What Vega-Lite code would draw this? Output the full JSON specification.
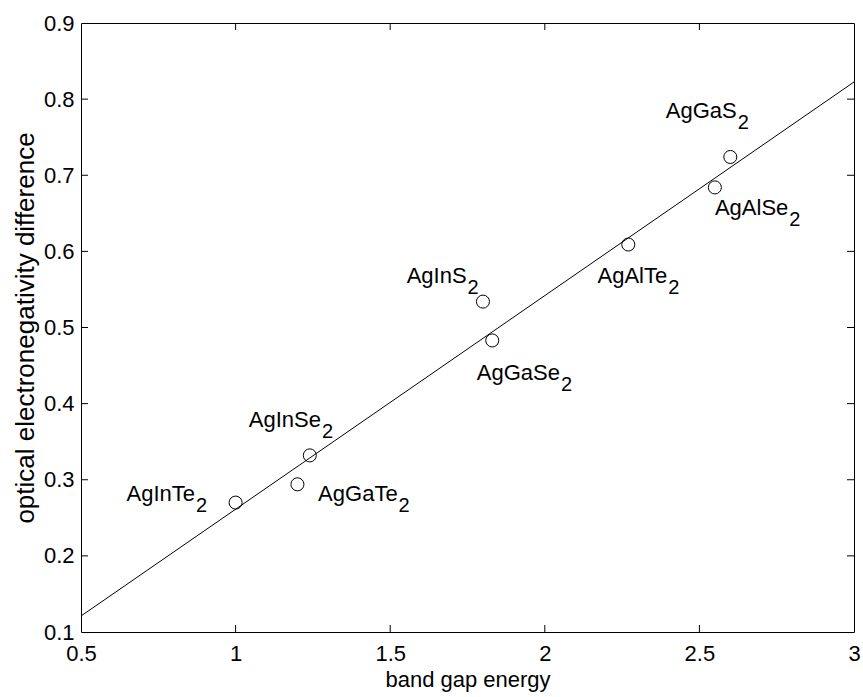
{
  "$schema": "https://vega.github.io/schema/vega-lite/v6.json",
  "width": 773,
  "height": 609,
  "autosize": {"type": "none"},
  "padding": {"left": 81, "top": 23, "right": 9, "bottom": 65},
  "background": "white",
  "config": {
    "font": "Liberation Sans",
    "view": {"stroke": "black", "strokeWidth": 1},
    "axis": {
      "grid": false,
      "domain": false,
      "ticks": false,
      "labelColor": "black",
      "labelFont": "Liberation Sans",
      "labelFontSize": 22,
      "titleColor": "black",
      "titleFont": "Liberation Sans",
      "titleFontSize": 22,
      "titleFontWeight": "normal"
    }
  },
  "datasets": {
    "compounds": [
      {"compound": "AgInTe", "sub": "2", "Eg": 1.00, "dchi": 0.270, "tx": 0.869, "ty": 0.2725},
      {"compound": "AgGaTe", "sub": "2", "Eg": 1.20, "dchi": 0.294, "tx": 1.524, "ty": 0.2725},
      {"compound": "AgInSe", "sub": "2", "Eg": 1.24, "dchi": 0.332, "tx": 1.276, "ty": 0.3697},
      {"compound": "AgInS", "sub": "2", "Eg": 1.80, "dchi": 0.534, "tx": 1.747, "ty": 0.558},
      {"compound": "AgGaSe", "sub": "2", "Eg": 1.83, "dchi": 0.483, "tx": 2.049, "ty": 0.431},
      {"compound": "AgAlTe", "sub": "2", "Eg": 2.27, "dchi": 0.609, "tx": 2.396, "ty": 0.558},
      {"compound": "AgAlSe", "sub": "2", "Eg": 2.55, "dchi": 0.684, "tx": 2.7875, "ty": 0.6478},
      {"compound": "AgGaS", "sub": "2", "Eg": 2.60, "dchi": 0.724, "tx": 2.6206, "ty": 0.7748}
    ],
    "fit": [
      {"Eg": 0.5, "dchi": 0.121},
      {"Eg": 3.0, "dchi": 0.8225}
    ],
    "xticks": [{"Eg": 1}, {"Eg": 1.5}, {"Eg": 2}, {"Eg": 2.5}],
    "yticks": [{"dchi": 0.2}, {"dchi": 0.3}, {"dchi": 0.4}, {"dchi": 0.5}, {"dchi": 0.6}, {"dchi": 0.7}, {"dchi": 0.8}]
  },
  "layer": [
    {
      "data": {"name": "fit"},
      "mark": {"type": "line", "color": "black", "strokeWidth": 1, "clip": true},
      "encoding": {
        "x": {
          "field": "Eg", "type": "quantitative",
          "scale": {"domain": [0.5, 3], "nice": false, "zero": false},
          "axis": {"orient": "bottom", "title": "band gap energy", "values": [0.5, 1, 1.5, 2, 2.5, 3], "format": "~g", "labelPadding": 11, "titlePadding": 5, "labelFlush": false}
        },
        "y": {
          "field": "dchi", "type": "quantitative",
          "scale": {"domain": [0.1, 0.9], "nice": false, "zero": false},
          "axis": {"orient": "left", "title": "optical electronegativity difference", "titleFontSize": 26, "values": [0.1, 0.2, 0.3, 0.4, 0.5, 0.6, 0.7, 0.8, 0.9], "format": ".1f", "labelPadding": 7, "titlePadding": 5, "labelFlush": false}
        }
      }
    },
    {
      "data": {"name": "xticks"},
      "mark": {"type": "rule", "color": "black", "strokeWidth": 1},
      "encoding": {
        "x": {"field": "Eg", "type": "quantitative"},
        "y": {"datum": 0.1, "type": "quantitative"},
        "y2": {"datum": 0.1092}
      }
    },
    {
      "data": {"name": "xticks"},
      "mark": {"type": "rule", "color": "black", "strokeWidth": 1},
      "encoding": {
        "x": {"field": "Eg", "type": "quantitative"},
        "y": {"datum": 0.9, "type": "quantitative"},
        "y2": {"datum": 0.8908}
      }
    },
    {
      "data": {"name": "yticks"},
      "mark": {"type": "rule", "color": "black", "strokeWidth": 1},
      "encoding": {
        "x": {"datum": 0.5, "type": "quantitative"},
        "x2": {"datum": 0.5226},
        "y": {"field": "dchi", "type": "quantitative"}
      }
    },
    {
      "data": {"name": "yticks"},
      "mark": {"type": "rule", "color": "black", "strokeWidth": 1},
      "encoding": {
        "x": {"datum": 3, "type": "quantitative"},
        "x2": {"datum": 2.9774},
        "y": {"field": "dchi", "type": "quantitative"}
      }
    },
    {
      "data": {"name": "compounds"},
      "mark": {"type": "point", "shape": "circle", "filled": false, "color": "black", "strokeWidth": 1, "size": 170, "opacity": 1},
      "encoding": {
        "x": {"field": "Eg", "type": "quantitative"},
        "y": {"field": "dchi", "type": "quantitative"}
      }
    },
    {
      "data": {"name": "compounds"},
      "mark": {"type": "text", "align": "right", "baseline": "alphabetic", "fontSize": 22, "color": "black"},
      "encoding": {
        "x": {"field": "tx", "type": "quantitative"},
        "y": {"field": "ty", "type": "quantitative"},
        "text": {"field": "compound"}
      }
    },
    {
      "data": {"name": "compounds"},
      "mark": {"type": "text", "align": "left", "baseline": "alphabetic", "fontSize": 20, "dx": 1, "dy": 11, "color": "black"},
      "encoding": {
        "x": {"field": "tx", "type": "quantitative"},
        "y": {"field": "ty", "type": "quantitative"},
        "text": {"field": "sub"}
      }
    }
  ]
}
